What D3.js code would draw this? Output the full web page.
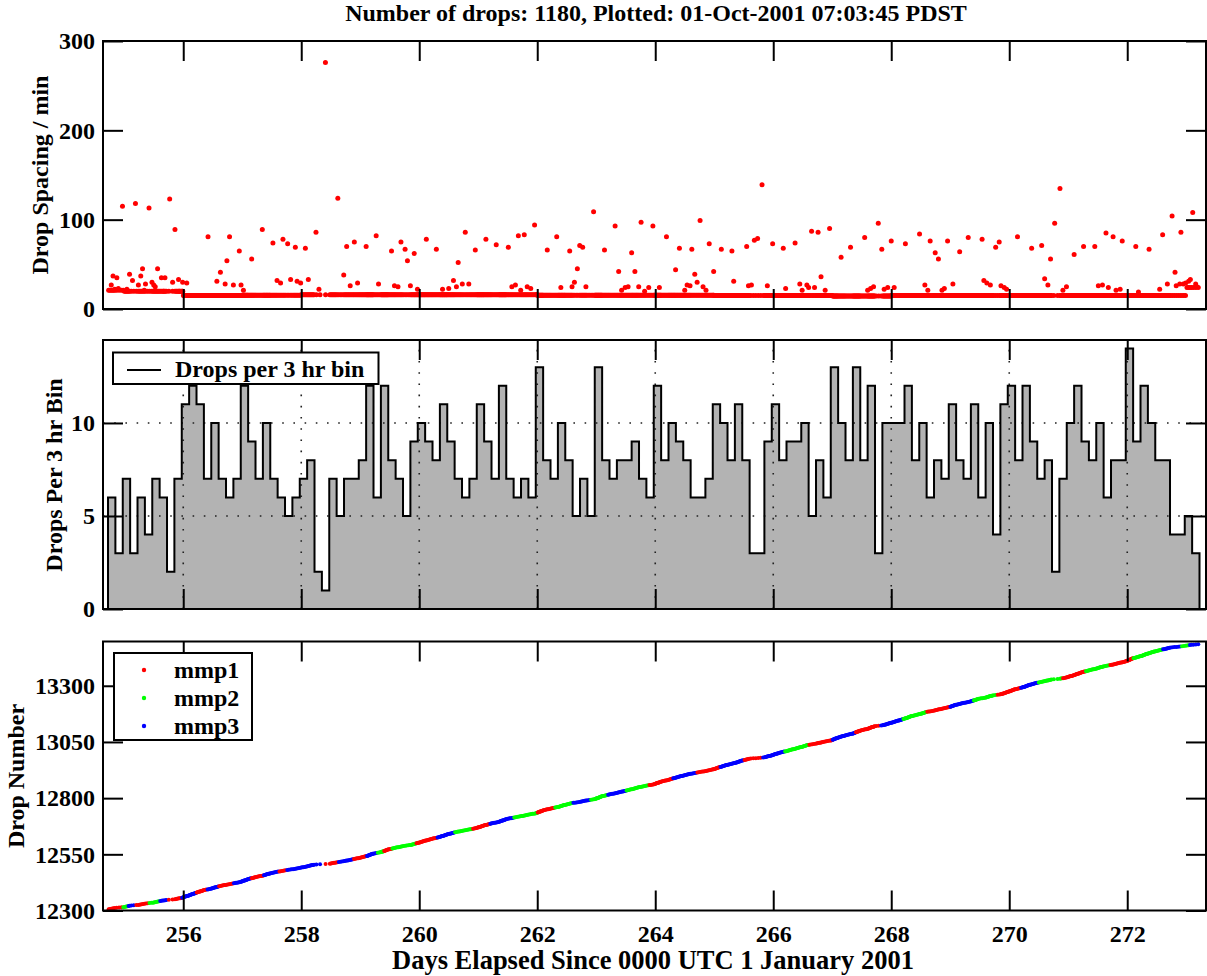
<!DOCTYPE html>
<html><head><meta charset="utf-8">
<script src="https://cdn.jsdelivr.net/npm/d3@7"></script>
<style>
body{margin:0;background:#fff;}
text{font-family:"Liberation Serif","Times New Roman",serif;font-weight:bold;fill:#000;}
</style></head><body>
<svg id="chart" width="1207" height="976"></svg>
<script>
// ---------------- DATA ----------------
const titleText = "Number of drops: 1180, Plotted: 01-Oct-2001 07:03:45 PDST";
const xLabel = "Days Elapsed Since 0000 UTC 1 January 2001";
const xTicks = [256, 258, 260, 262, 264, 266, 268, 270, 272];
const spacingTicks = [0, 100, 200, 300];
const binTicks = [0, 5, 10];
const dropTicks = [12300, 12550, 12800, 13050, 13300];

// 3-hour bins
const binStart = 254.725;
const binDays = 0.125;
const binCounts = [
  6,3,7,3,6,4,7,6,2,7, 11,12,11,7,10,7,6,7,12,9, 7,10,7,6,5,6,7,8,2,1, 7,5,7,7,8,12,
  6,12,8,7,5,9,10,9,8,11, 9,7,6,7,11,9,7,12,7,6, 7,6,13,8,7,10,8,5,7,5, 13,8,7,8,8,9,7,
  6,12,8,10,9,8,6,6,7,11, 10,8,11,8,3,3,9,11,8,9, 9,10,5,8,6,13,10,8,13,8, 12,3,10,10,10,12,
  8,10,6,8,7,11,8,7,11,6, 10,4,11,12,8,12,9,7,8,2, 7,10,12,9,8,10,6,8,8,14, 9,12,10,8,8,4,4,5,3
];
const firstDropNumber = 12306;

// typical (band) drop spacing by day, minutes
const bandDays    = [254, 255, 256, 257, 258, 259, 260, 261, 262, 263, 264, 265, 266, 267, 268, 269, 270, 271, 272, 273];
const bandMinutes = [21,  20,  15,  15.5,16,  16,  16,  16,  15.5,15.5,15.5,15,  15,  14.5,15,  15,  15,  15,  15,  24];

// individually visible drop spacings [day, minutes]
const spacingPoints = [
 [254.97,115],[255.19,118],[255.42,113],[255.77,123],[255.86,89],[256.42,81],[256.785,81],[256.95,65],[257.16,56],
 [257.34,89],[257.52,74],[257.69,78],[257.77,73],[257.90,69],[258.07,68],[258.25,86],[258.41,276],[258.62,124],[258.77,70],
 [258.90,75],[259.10,70],[259.27,82],
 [256.74,54],[256.63,41],[256.57,31],[256.71,28],[254.81,37],[254.875,35],[255.09,39],[255.14,32],[255.28,37],[255.31,45],
 [255.565,45],[255.63,35],[255.69,35],[255.47,30],[255.50,27],[255.36,28],[255.24,27],[254.78,27],[254.84,22],[254.90,23],
 [255.045,22],[255.34,21],[255.525,25],[255.67,20],[255.82,30],[255.92,33],[255.99,30],[256.06,29],[255.93,20],[256.85,27],
 [256.98,27],[257.02,21],[257.59,32],[257.65,29],[257.82,33],[257.93,31],[257.99,29],[258.12,33],[258.30,22],[258.72,38],
 [258.83,26],[258.955,29],[259.31,28],
 [259.53,65],[259.69,75],[259.76,67],[259.80,54],[259.915,62],[260.12,78],[260.29,67],[260.66,52],[260.78,86],[260.95,66],
 [261.13,78],[261.305,72],[261.51,69],[261.68,82],[261.78,83],[261.955,94],[262.17,66],[262.33,81],[262.55,65],[262.68,45],
 [262.72,71],[262.77,69],[262.955,109],[263.14,66],[263.32,93],[263.38,42],[263.60,63],[263.655,42],[263.76,97],[263.96,93],
 [259.58,26],[259.64,25],[259.85,26],[259.97,22],[260.58,32],[260.73,28],[260.84,28],[260.63,25],[260.395,22],[260.50,23],
 [261.57,25],[261.63,27],[261.72,21],[261.83,25],[261.89,23],[262.40,24],[262.59,25],[262.63,30],[262.825,25],[263.43,21],
 [263.49,24],[263.54,25],[263.72,25],[263.82,20],[263.89,24],
 [264.19,81],[264.41,68],[264.62,67],[264.76,99],[264.915,73],[265.12,67],[265.30,65],[265.55,70],[265.68,77],[265.735,79],
 [265.81,139],[265.99,73],[266.17,68],[266.37,74],[266.65,87],[266.76,86],[266.955,90],[267.15,58],[267.31,69],[267.55,80],
 [267.78,96],[267.84,67],[268.00,76],[268.24,73],[268.48,84],[268.66,76],
 [264.345,44],[264.67,39],[264.99,42],[264.71,30],[264.54,27],[264.59,26],[264.50,21],[264.81,25],[264.86,21],[265.33,31],
 [265.58,26],[265.63,27],[266.81,36],[266.88,21],[266.70,24],[266.57,27],[266.60,24],[266.45,28],[266.49,21],[266.21,23],
 [264.07,24],[265.90,26],[267.60,21],[267.65,23],[267.70,25],[267.88,22],[267.94,24],[268.05,24],[268.57,27],[268.62,21],
 [268.745,63],[268.80,56],[268.955,76],[269.16,64],[269.305,80],[269.54,78],[269.77,69],[269.83,75],[270.14,81],[270.38,68],
 [270.55,71],[270.70,56],[270.77,96],[270.86,135],[271.10,61],[271.26,70],[271.45,70],[271.64,85],[271.76,81],[271.915,76],
 [272.145,70],[272.37,67],[272.60,83],[272.76,104],[272.91,86],[273.11,108],
 [270.60,34],[270.655,27],[269.57,32],[269.62,29],[269.68,27],[269.045,28],[268.90,23],[268.86,21],[269.86,26],[269.915,24],
 [269.955,22],[270.97,25],[270.91,21],[271.51,26],[271.58,27],[271.68,24],[271.81,21],[271.88,22],[272.19,19],[272.55,22],
 [272.68,28],[272.81,41],[272.83,26],[272.89,28],[272.95,28],[272.99,29],[273.04,31],[273.07,33],[273.16,28],[273.18,25]
];

// launcher units
const unitNames  = ["mmp1", "mmp2", "mmp3"];
const unitColors = ["#ff0000", "#00ff00", "#0000ff"];
// [segment start day, unit index]
const unitSegments = [
 [254.70,0],[254.97,1],[255.07,2],[255.19,0],[255.41,1],[255.61,2],[255.75,0],[255.98,2],[256.23,0],[256.40,2],
 [256.60,0],[256.85,2],[257.16,0],[257.36,2],[257.62,0],[257.76,2],[258.40,0],[258.63,2],[258.89,0],[259.11,2],
 [259.28,1],[259.40,0],[259.54,1],[259.95,0],[260.30,2],[260.60,1],[260.90,0],[261.20,2],[261.60,1],[262.00,0],
 [262.30,1],[262.60,2],[262.90,1],[263.20,2],[263.50,1],[263.90,0],[264.30,2],[264.70,0],[265.10,2],[265.50,0],
 [265.80,2],[266.20,1],[266.60,0],[267.00,2],[267.40,0],[267.80,2],[268.20,1],[268.60,0],[269.00,2],[269.40,1],
 [269.80,0],[270.20,2],[270.50,1],[270.90,0],[271.30,1],[271.70,0],[272.10,1],[272.60,2],[272.90,1],[273.05,2]
];

// ---------------- LAYOUT ----------------
const svg = d3.select("#chart");
const L = 103, R = 1206;
const panels = {
  top: {y0: 41, y1: 309},
  mid: {y0: 340, y1: 609},
  bot: {y0: 641.5, y1: 910.5}
};
const x = d3.scaleLinear().domain([254.64, 273.335]).range([L, R]);
const ySp = d3.scaleLinear().domain([0, 300]).range([panels.top.y1, panels.top.y0]);
const yBin = d3.scaleLinear().domain([0, 14.46]).range([panels.mid.y1, panels.mid.y0]);
const yDrop = d3.scaleLinear().domain([12300, 13497]).range([panels.bot.y1, panels.bot.y0]);

// derived drop times (evenly within each bin)
const drops = [];
binCounts.forEach((n, k) => {
  for (let i = 0; i < n; i++) {
    drops.push(binStart + k * binDays + (i + 0.5) * binDays / n);
  }
});
function unitAt(t) {
  let u = unitSegments[0][1];
  for (const s of unitSegments) { if (t >= s[0]) u = s[1]; }
  return u;
}
function bandAt(t) {
  const i = bandDays.indexOf(Math.floor(t));
  return bandMinutes[i < 0 ? 0 : i];
}

function axes(p, yScale, yTickVals, showX) {
  const g = svg.append("g");
  g.append("g").attr("transform", `translate(0,${p.y1})`)
    .call(d3.axisBottom(x).tickValues(xTicks).tickSize(-20).tickSizeOuter(0).tickPadding(14)
      .tickFormat(showX ? d3.format("d") : ""));
  g.append("g").attr("transform", `translate(0,${p.y0})`)
    .call(d3.axisTop(x).tickValues(xTicks).tickSize(-20).tickSizeOuter(0).tickFormat(""));
  g.append("g").attr("transform", `translate(${L},0)`)
    .call(d3.axisLeft(yScale).tickValues(yTickVals).tickSize(-20).tickSizeOuter(0).tickPadding(8).tickFormat(d3.format("d")));
  g.append("g").attr("transform", `translate(${R},0)`)
    .call(d3.axisRight(yScale).tickValues(yTickVals).tickSize(-20).tickSizeOuter(0).tickFormat(""));
  g.selectAll(".domain").remove();
  g.selectAll(".tick line").attr("stroke", "#000").attr("stroke-width", 2);
  g.selectAll(".tick text").attr("font-size", 24).attr("font-family", null).style("font-weight", "bold");
  svg.append("rect").attr("x", L).attr("y", p.y0).attr("width", R - L).attr("height", p.y1 - p.y0)
    .attr("fill", "none").attr("stroke", "#000").attr("stroke-width", 2);
  return g;
}

// title
svg.append("text").attr("x", 656).attr("y", 21).attr("text-anchor", "middle").attr("font-size", 24).text(titleText);

// ---- TOP PANEL: drop spacing ----
const topG = svg.append("g");
topG.selectAll("circle.band").data(drops).join("circle")
  .attr("cx", d => x(d)).attr("cy", d => ySp(bandAt(d))).attr("r", 2.5).attr("fill", "#ff0000");
topG.selectAll("circle.pt").data(spacingPoints).join("circle")
  .attr("cx", d => x(d[0])).attr("cy", d => ySp(d[1])).attr("r", 2.5).attr("fill", "#ff0000");
axes(panels.top, ySp, spacingTicks, false);

// ---- MIDDLE PANEL: histogram ----
const binEnd = binStart + binCounts.length * binDays;
const areaPts = [];
binCounts.forEach((c, k) => {
  areaPts.push([binStart + k * binDays, c]);
  areaPts.push([binStart + (k + 1) * binDays, c]);
});
const outline = [[binStart, 0], ...areaPts, [binEnd, 0]];
svg.append("path").datum(outline)
  .attr("d", d3.line().x(d => x(d[0])).y(d => yBin(d[1])))
  .attr("fill", "#b3b3b3").attr("stroke", "none");
// grid
const grid = svg.append("g").attr("stroke", "#222").attr("stroke-width", 1.6).attr("stroke-dasharray", "1.6,9.6");
grid.selectAll("line.v").data(xTicks).join("line")
  .attr("x1", d => x(d)).attr("x2", d => x(d)).attr("y1", panels.mid.y1).attr("y2", panels.mid.y0);
grid.selectAll("line.h").data(binTicks.filter(d => d > 0)).join("line")
  .attr("x1", L).attr("x2", R).attr("y1", d => yBin(d)).attr("y2", d => yBin(d));
svg.append("path").datum(outline)
  .attr("d", d3.line().x(d => x(d[0])).y(d => yBin(d[1])))
  .attr("fill", "none").attr("stroke", "#000").attr("stroke-width", 2);
axes(panels.mid, yBin, binTicks, false);
// legend
const lg = svg.append("g");
lg.append("rect").attr("x", 113).attr("y", 352.5).attr("width", 265.5).attr("height", 31.5)
  .attr("fill", "#fff").attr("stroke", "#000").attr("stroke-width", 2);
lg.append("line").attr("x1", 127).attr("x2", 161).attr("y1", 370).attr("y2", 370).attr("stroke", "#000").attr("stroke-width", 2);
lg.append("text").attr("x", 175).attr("y", 377).attr("font-size", 24).text("Drops per 3 hr bin");

// ---- BOTTOM PANEL: drop number ----
svg.append("g").selectAll("circle").data(drops).join("circle")
  .attr("cx", d => x(d)).attr("cy", (d, i) => yDrop(firstDropNumber + i)).attr("r", 2)
  .attr("fill", d => unitColors[unitAt(d)]);
axes(panels.bot, yDrop, dropTicks, true);
const lg2 = svg.append("g");
lg2.append("rect").attr("x", 114).attr("y", 653).attr("width", 138).attr("height", 87)
  .attr("fill", "#fff").attr("stroke", "#000").attr("stroke-width", 2);
unitNames.forEach((nm, i) => {
  lg2.append("circle").attr("cx", 144).attr("cy", 670 + i * 28).attr("r", 2.2).attr("fill", unitColors[i]);
  lg2.append("text").attr("x", 174).attr("y", 678 + i * 28).attr("font-size", 24).text(nm);
});

// axis titles
svg.append("text").attr("transform", "translate(48,175) rotate(-90)").attr("text-anchor", "middle").attr("font-size", 24).text("Drop Spacing / min");
svg.append("text").attr("transform", "translate(62,475) rotate(-90)").attr("text-anchor", "middle").attr("font-size", 24).text("Drops Per 3 hr Bin");
svg.append("text").attr("transform", "translate(24,776) rotate(-90)").attr("text-anchor", "middle").attr("font-size", 24).text("Drop Number");
svg.append("text").attr("x", 653).attr("y", 969).attr("text-anchor", "middle").attr("font-size", 26.5).text(xLabel);
</script>
</body></html>
